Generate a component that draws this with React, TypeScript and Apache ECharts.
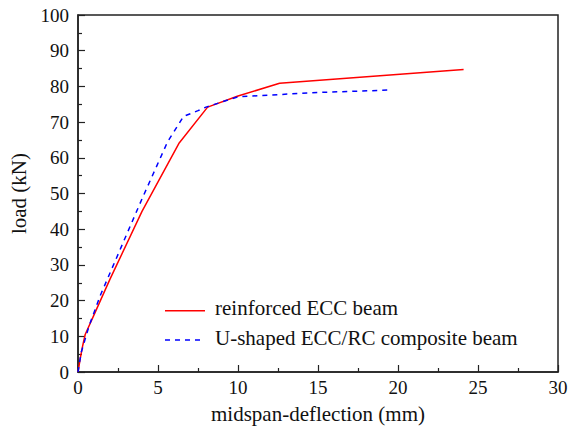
import React, { useEffect, useRef } from "react";
import * as echarts from "echarts";

const reinforcedX = [0, 0.15, 0.3, 0.45, 1.0, 2.0, 4.0, 6.3, 8.1, 10.0, 12.6, 24.1];
const reinforcedY = [0, 4, 7.5, 10.5, 16, 26, 45, 64, 74.2, 77.3, 80.9, 84.7];
const compositeX = [0, 0.2, 0.7, 1.4, 4.0, 5.6, 6.6, 7.5, 8.0, 10.0, 15.0, 19.6];
const compositeY = [0, 5.5, 13, 21.5, 48.5, 64.5, 71.6, 73.2, 74.2, 77.1, 78.3, 79.0];

const xTicks = [0, 5, 10, 15, 20, 25, 30];
const yTicks = [0, 10, 20, 30, 40, 50, 60, 70, 80, 90, 100];

const seriesNames = ["reinforced ECC beam", "U-shaped ECC/RC composite beam"];
const seriesColors = ["#ff0000", "#0000ff"];

const FONT = "Liberation Serif";

export default function App() {
  const ref = useRef<HTMLDivElement>(null);
  useEffect(() => {
    if (!ref.current) return;
    const chart = echarts.init(ref.current, undefined, { renderer: "svg" });
    const axisCommon = {
      axisLine: { show: true, lineStyle: { color: "#222", width: 1.5 } },
      axisTick: { show: true, inside: true, length: 7, lineStyle: { color: "#222", width: 1.2 } },
      minorTick: { show: true, splitNumber: 2, length: 4, lineStyle: { color: "#222", width: 1.2 } },
      splitLine: { show: false },
      axisLabel: { color: "#111", fontFamily: FONT, fontSize: 19 },
      nameTextStyle: { color: "#111", fontFamily: FONT, fontSize: 21 },
      nameLocation: "middle" as const,
    };
    const legendGraphics: any[] = [];
    seriesNames.forEach((name, i) => {
      const ly = 310.7 + i * 29.3;
      legendGraphics.push({
        type: "line",
        shape: { x1: 165, y1: ly, x2: 205, y2: ly },
        style: {
          stroke: seriesColors[i],
          lineWidth: 1.5,
          lineDash: i === 1 ? [5, 5] : null,
        },
      });
      legendGraphics.push({
        type: "text",
        x: 215,
        y: ly - 2.5,
        style: {
          text: name,
          fill: "#111",
          fontFamily: FONT,
          fontSize: 21,
          verticalAlign: "middle",
          align: "left",
        },
      });
    });
    chart.setOption({
      animation: false,
      textStyle: { fontFamily: FONT },
      grid: {
        left: 78,
        top: 15,
        right: 19,
        bottom: 57,
        show: true,
        borderColor: "#222",
        borderWidth: 1.5,
        containLabel: false,
      },
      xAxis: {
        ...axisCommon,
        type: "value",
        min: xTicks[0],
        max: xTicks[xTicks.length - 1],
        interval: 5,
        name: "midspan-deflection (mm)",
        nameGap: 31,
        axisLabel: { ...axisCommon.axisLabel, margin: 6 },
      },
      yAxis: {
        ...axisCommon,
        type: "value",
        min: yTicks[0],
        max: yTicks[yTicks.length - 1],
        interval: 10,
        name: "load (kN)",
        nameGap: 44,
        axisLabel: { ...axisCommon.axisLabel, margin: 9 },
      },
      graphic: legendGraphics,
      series: [
        {
          name: seriesNames[0],
          type: "line",
          data: reinforcedX.map((x, i) => [x, reinforcedY[i]]),
          symbol: "none",
          smooth: false,
          lineStyle: { color: seriesColors[0], width: 1.5 },
          itemStyle: { color: seriesColors[0] },
        },
        {
          name: seriesNames[1],
          type: "line",
          data: compositeX.map((x, i) => [x, compositeY[i]]),
          symbol: "none",
          smooth: false,
          lineStyle: { color: seriesColors[1], width: 1.5, type: [5, 5] },
          itemStyle: { color: seriesColors[1] },
        },
      ],
    });
    return () => chart.dispose();
  }, []);
  return <div ref={ref} style={{ width: 577, height: 429, position: "absolute", left: 0, top: 0 }} />;
}
